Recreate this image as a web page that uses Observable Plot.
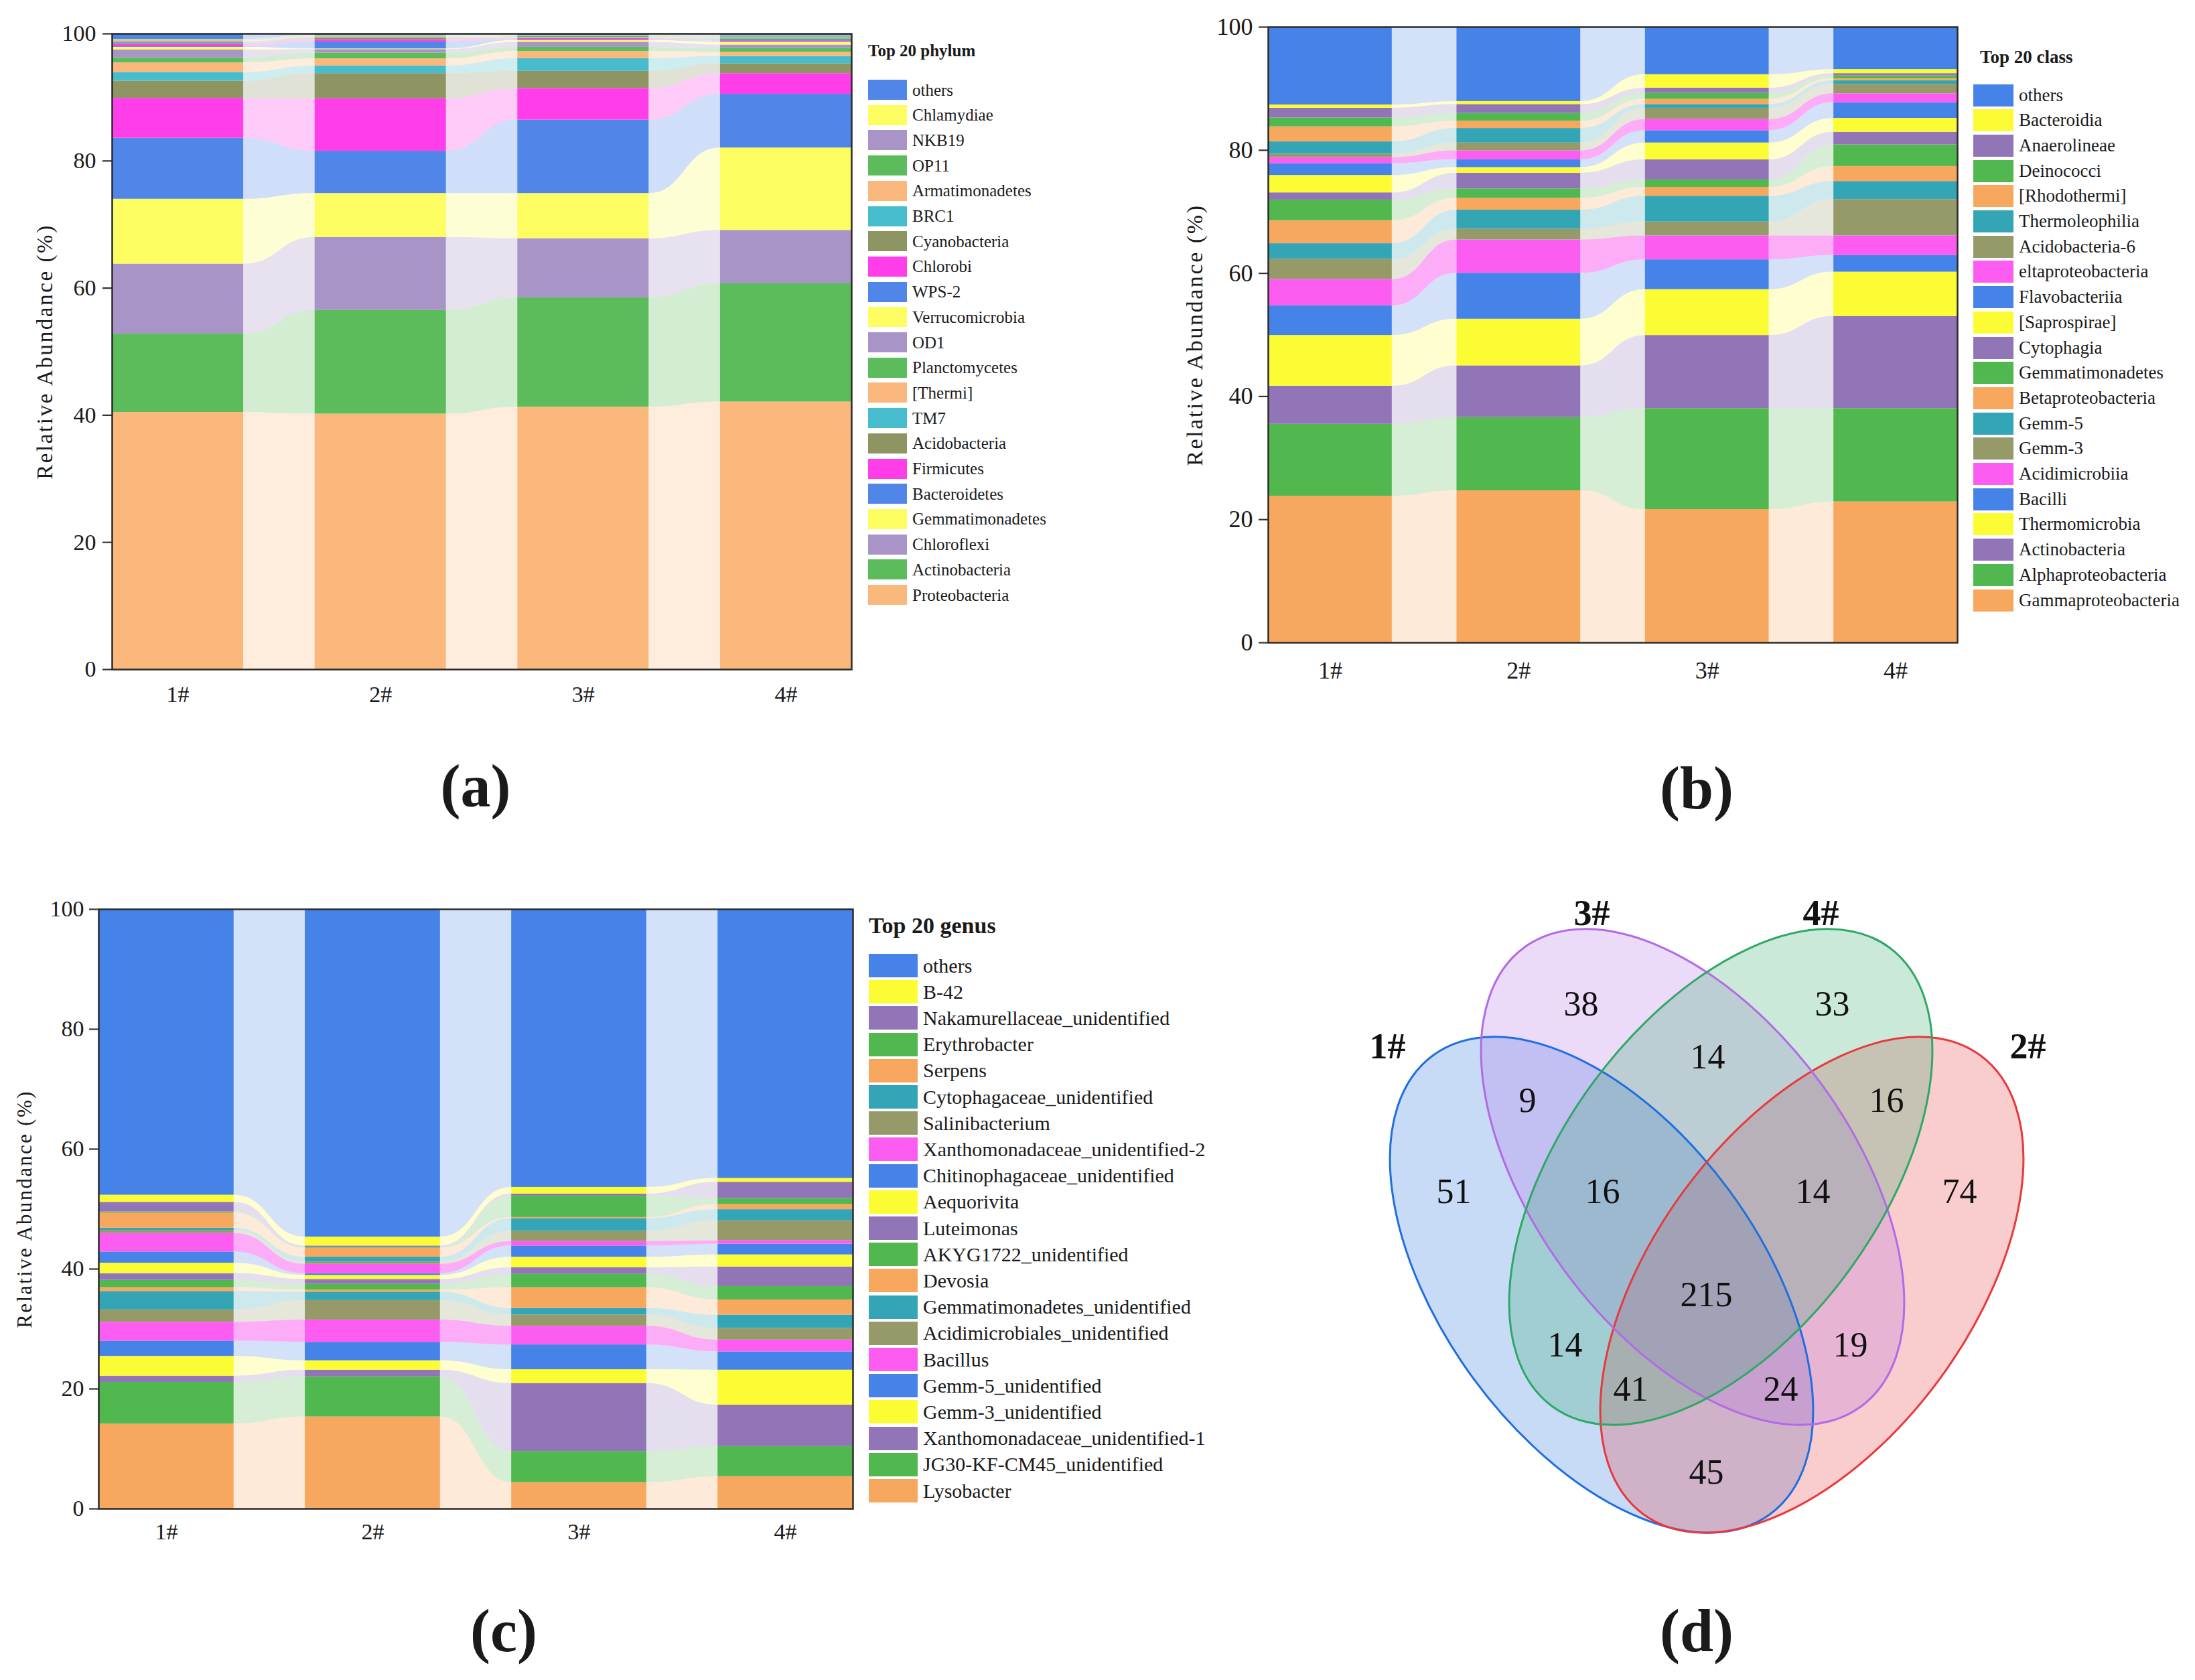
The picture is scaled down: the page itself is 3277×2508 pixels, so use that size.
<!DOCTYPE html>
<html>
<head>
<meta charset="utf-8">
<script src="https://cdn.jsdelivr.net/npm/d3@7"></script>
<script src="https://cdn.jsdelivr.net/npm/@observablehq/plot@0.6"></script>
<style>
html, body { margin: 0; padding: 0; background: #fff; }
#fig { position: relative; width: 3277px; height: 2508px; background: #fff; overflow: hidden;
       font-family: "Liberation Serif", "Times New Roman", serif; color: #1a1a1a; }
#fig svg { position: absolute; font-family: "Liberation Serif", "Times New Roman", serif !important; }
#fig svg text { font-family: "Liberation Serif", "Times New Roman", serif !important; }
.lg-title { position: absolute; font-weight: bold; white-space: nowrap; line-height: 1; transform: translateY(-50%); }
.lg-item { position: absolute; display: flex; align-items: center; white-space: nowrap; }
.lg-sw { flex: none; }
.lg-tx { line-height: 1; }
.plabel { position: absolute; font-weight: bold; font-size: 90px; line-height: 1; transform: translate(-50%, -50%); white-space: nowrap; }
</style>
</head>
<body>
<div id="fig"></div>
<script>
// ---------------- DATA ----------------
const samples = ["1#", "2#", "3#", "4#"];

// (a) phylum — listed from the bottom of each stacked bar to the top
const phylumNames = ["Proteobacteria", "Actinobacteria", "Chloroflexi", "Gemmatimonadetes", "Bacteroidetes",
  "Firmicutes", "Acidobacteria", "TM7", "[Thermi]", "Planctomycetes", "OD1", "Verrucomicrobia", "WPS-2",
  "Chlorobi", "Cyanobacteria", "BRC1", "Armatimonadetes", "OP11", "NKB19", "Chlamydiae", "others"];
const phylum1 = [40.45, 12.35, 11.0, 10.2, 9.6, 6.27, 2.7, 1.37, 1.51, 0.79, 1.23, 0.43, 0.1, 0.44, 0.06, 0.23, 0.25, 0.07, 0.05, 0.06, 0.84];
const phylum2 = [40.2, 16.3, 11.5, 6.9, 6.65, 8.25, 3.96, 1.19, 1.15, 0.9, 0.55, 0.1, 1.08, 0.36, 0.25, 0.1, 0.1, 0.08, 0.08, 0.07, 0.23];
const phylum3 = [41.3, 17.2, 9.3, 7.1, 11.55, 4.97, 2.7, 1.98, 1.15, 0.65, 0.79, 0.29, 0.07, 0.21, 0.07, 0.07, 0.07, 0.18, 0.07, 0.04, 0.24];
const phylum4 = [42.1, 18.6, 8.4, 12.96, 8.46, 3.24, 1.54, 1.16, 0.64, 0.65, 0.51, 0.44, 0.15, 0.1, 0.25, 0.2, 0.1, 0.1, 0.05, 0.05, 0.3];

// (b) class — bottom to top
const classNames = ["Gammaproteobacteria", "Alphaproteobacteria", "Actinobacteria", "Thermomicrobia", "Bacilli",
  "Acidimicrobiia", "Gemm-3", "Gemm-5", "Betaproteobacteria", "Gemmatimonadetes", "Cytophagia", "[Saprospirae]",
  "Flavobacteriia", "eltaproteobacteria", "Acidobacteria-6", "Thermoleophilia", "[Rhodothermi]", "Deinococci",
  "Anaerolineae", "Bacteroidia", "others"];
const class1 = [23.83, 11.67, 6.2, 8.23, 4.83, 4.26, 3.27, 2.55, 3.74, 3.35, 1.17, 2.83, 1.92, 0.99, 0.54, 2.0, 2.44, 1.45, 1.57, 0.54, 12.62];
const class2 = [24.7, 11.9, 8.4, 7.58, 7.46, 5.41, 1.75, 3.09, 1.93, 1.53, 2.54, 0.91, 1.27, 1.46, 1.27, 2.36, 1.17, 1.27, 1.45, 0.48, 12.07];
const class3 = [21.65, 16.4, 11.88, 7.45, 4.84, 3.89, 2.25, 4.19, 1.45, 1.2, 3.27, 2.73, 2.0, 1.82, 1.82, 0.61, 0.84, 0.98, 0.84, 2.18, 7.71];
const class4 = [22.89, 15.16, 14.97, 7.2, 2.69, 3.2, 5.89, 2.95, 2.43, 3.52, 2.05, 2.25, 2.55, 1.45, 1.53, 0.58, 0.33, 0.46, 0.37, 0.66, 6.87];

// (c) genus — bottom to top
const genusNames = ["Lysobacter", "JG30-KF-CM45_unidentified", "Xanthomonadaceae_unidentified-1", "Gemm-3_unidentified",
  "Gemm-5_unidentified", "Bacillus", "Acidimicrobiales_unidentified", "Gemmatimonadetes_unidentified", "Devosia",
  "AKYG1722_unidentified", "Luteimonas", "Aequorivita", "Chitinophagaceae_unidentified",
  "Xanthomonadaceae_unidentified-2", "Salinibacterium", "Cytophagaceae_unidentified", "Serpens", "Erythrobacter",
  "Nakamurellaceae_unidentified", "B-42", "others"];
const genus1 = [14.16, 6.96, 1.04, 3.3, 2.54, 3.15, 2.05, 3.08, 0.63, 1.23, 1.12, 1.74, 1.86, 3.09, 0.52, 0.37, 2.53, 0.18, 1.6, 1.19, 47.66];
const genus2 = [15.35, 6.69, 1.12, 1.56, 3.08, 3.72, 3.24, 1.41, 0.37, 0.93, 0.82, 0.67, 0.3, 1.56, 0.37, 0.81, 1.5, 0.1, 0.27, 1.48, 54.65];
const genus3 = [4.39, 5.2, 11.34, 2.3, 4.13, 3.12, 1.86, 1.12, 3.45, 2.23, 1.12, 1.74, 1.87, 0.74, 1.71, 2.12, 0.18, 3.54, 0.37, 1.11, 46.36];
const genus4 = [5.39, 5.02, 6.91, 5.84, 3.05, 1.97, 1.93, 2.23, 2.53, 2.23, 3.27, 2.01, 1.78, 0.56, 3.35, 1.86, 0.85, 1.0, 2.72, 0.63, 44.87];

// (d) Venn — shared OTUs
const vennSets = ["1#", "2#", "3#", "4#"];
const vennRegions = ["1", "2", "3", "4", "34", "13", "24", "134", "234", "1234", "14", "23", "124", "123", "12"];
const vennCounts = [51, 74, 38, 33, 14, 9, 16, 16, 14, 215, 14, 19, 41, 24, 45];

// ---------------- STYLE / LAYOUT ----------------
const paletteA = ["#fbb87c", "#5cbc5c", "#a994c8", "#fdfd62", "#4f86e8", "#ff3eea", "#8e9462", "#46bccc"];
const paletteBC = ["#f8a85e", "#50b84e", "#9175b6", "#fcfc34", "#4583e8", "#fc5cf0", "#959a68", "#33a5b5"];
const serif = "Liberation Serif";
const fig = document.getElementById("fig");

function forceSerif(svg) {
  svg.style.fontFamily = "'Liberation Serif', 'Times New Roman', serif";
  d3.select(svg).selectAll("text, g").attr("font-family", "Liberation Serif");
}

function stackedPanel(cfg) {
  const {names, series, palette, w} = cfg;
  const cums = series.map(vals => { let c = 0; return vals.map(v => { const lo = c; c += v; return [lo, c]; }); });
  const bars = [], ribbons = [];
  cums.forEach((cum, s) => cum.forEach(([lo, hi], k) => {
    bars.push({x1: s, x2: s + w, lo, hi, fill: palette[k % palette.length]});
  }));
  for (let g = 0; g < cums.length - 1; g++) {
    names.forEach((n, k) => {
      const ci = k % palette.length;
      const fill = palette[ci], op = cfg.ribbonOp(ci);
      const key = k + "-" + g;
      ribbons.push({key, x: g + w, lo: cums[g][k][0], hi: cums[g][k][1], fill, op});
      ribbons.push({key, x: g + 1, lo: cums[g + 1][k][0], hi: cums[g + 1][k][1], fill, op});
    });
  }
  const ticks = samples.map((d, i) => i + w / 2);
  const svg = Plot.plot({
    width: cfg.width, height: cfg.height,
    marginLeft: cfg.ml, marginRight: cfg.mr, marginTop: cfg.mt, marginBottom: cfg.mb,
    style: {fontFamily: serif, background: "transparent", color: "#1a1a1a", overflow: "visible"},
    x: {domain: [0, samples.length - 1 + w]},
    y: {domain: [0, 100]},
    color: {type: "identity"},
    opacity: {type: "identity"},
    marks: [
      Plot.area(ribbons, {x1: "x", y1: "lo", y2: "hi", z: "key", fill: "fill", fillOpacity: "op", curve: "bump-x"}),
      Plot.rect(bars, {x1: "x1", x2: "x2", y1: "lo", y2: "hi", fill: "fill"}),
      Plot.axisY({ticks: [0, 20, 40, 60, 80, 100], tickSize: 14, tickPadding: cfg.tp, fontSize: cfg.tickFont,
                  fontFamily: serif, label: null, strokeWidth: 2.2, stroke: "#333"}),
      Plot.axisX({ticks, tickFormat: d => samples[Math.round(d - w / 2)], tickSize: 0, tickPadding: cfg.xpad,
                  fontSize: cfg.tickFont, fontFamily: serif, label: null}),
      Plot.text(["Relative Abundance (%)"], {frameAnchor: "left", dx: -cfg.ylabOff, rotate: -90,
                  textAnchor: "middle", lineAnchor: "middle",
                  fontSize: cfg.ylabFont, fontFamily: serif, text: d => d, fill: "#1a1a1a"}),
      Plot.frame({stroke: "#2a2a2a", strokeWidth: 2.5})
    ]
  });
  forceSerif(svg);
  d3.select(svg).selectAll("text")
    .filter(function () { return this.textContent.startsWith("Relative"); })
    .attr("letter-spacing", cfg.ylabSpacing + "px");
  svg.style.left = cfg.left + "px";
  svg.style.top = cfg.top + "px";
  fig.appendChild(svg);

  // legend (top of list = top of stack)
  const L = cfg.legend;
  const t = document.createElement("div");
  t.className = "lg-title";
  t.textContent = L.title;
  Object.assign(t.style, {left: L.titleX + "px", top: L.titleY + "px", fontSize: L.titleFont + "px"});
  fig.appendChild(t);
  const order = names.map((n, k) => k).reverse();
  order.forEach((k, i) => {
    const item = document.createElement("div");
    item.className = "lg-item";
    Object.assign(item.style, {left: L.swX + "px", top: (L.firstY + i * L.step - L.swH / 2) + "px", height: L.swH + "px"});
    const sw = document.createElement("div");
    sw.className = "lg-sw";
    Object.assign(sw.style, {width: L.swW + "px", height: L.swH + "px", background: palette[k % palette.length]});
    const tx = document.createElement("span");
    tx.className = "lg-tx";
    tx.textContent = names[k];
    Object.assign(tx.style, {marginLeft: (L.textX - L.swX - L.swW) + "px", fontSize: L.font + "px"});
    item.appendChild(sw); item.appendChild(tx);
    fig.appendChild(item);
  });
}

// (a)
stackedPanel({
  names: phylumNames, series: [phylum1, phylum2, phylum3, phylum4], palette: paletteA, w: 0.648,
  ribbonOp: () => 0.27,
  left: 0, top: 0, width: 1290, height: 1080, ml: 167, mr: 19, mt: 50, mb: 81,
  tp: 10, tickFont: 34, xpad: 24, ylabOff: 100, ylabFont: 33, ylabSpacing: 2.6,
  legend: {title: "Top 20 phylum", titleX: 1296, titleY: 75, titleFont: 25,
           swX: 1296, swW: 58, swH: 30, firstY: 134, step: 37.7, textX: 1362, font: 25}
});

// (b)
stackedPanel({
  names: classNames, series: [class1, class2, class3, class4], palette: paletteBC, w: 0.657,
  ribbonOp: ci => ci === 5 ? 0.5 : 0.24,
  left: 1750, top: 0, width: 1200, height: 1040, ml: 143, mr: 28, mt: 40, mb: 81,
  tp: 9, tickFont: 36, xpad: 28, ylabOff: 109, ylabFont: 34, ylabSpacing: 2.6,
  legend: {title: "Top 20 class", titleX: 2956, titleY: 85, titleFont: 27,
           swX: 2946, swW: 60, swH: 33, firstY: 142, step: 37.7, textX: 3014, font: 27}
});

// (c)
stackedPanel({
  names: genusNames, series: [genus1, genus2, genus3, genus4], palette: paletteBC, w: 0.655,
  ribbonOp: ci => ci === 5 ? 0.5 : 0.24,
  left: 0, top: 1300, width: 1290, height: 1040, ml: 147, mr: 17, mt: 57, mb: 88,
  tp: 8, tickFont: 34, xpad: 21, ylabOff: 110, ylabFont: 31, ylabSpacing: 2.3,
  legend: {title: "Top 20 genus", titleX: 1297, titleY: 1382, titleFont: 34,
           swX: 1297, swW: 73, swH: 35, firstY: 1441.5, step: 39.2, textX: 1378, font: 30}
});

// (d) Venn — layout (pixel positions inside the Venn plot)
const vennColors = {"1#": "#1f6fe0", "2#": "#e8393c", "3#": "#b26ae6", "4#": "#2fa866"};
const vennEllipseLayout = [
  {set: "1#", cx: 411, cy: 618, rot: 53.7},
  {set: "2#", cx: 725, cy: 618, rot: -53.7},
  {set: "3#", cx: 547, cy: 457, rot: 53.7},
  {set: "4#", cx: 589, cy: 457, rot: -53.7}
];
const vennAxes = {a: 425, b: 237};
const vennRegionPos = {
  "1": [190, 479], "2": [945, 479], "3": [380, 199], "4": [755, 199], "34": [569, 278],
  "13": [300, 343], "24": [836, 343], "134": [412, 479], "234": [726, 479], "1234": [567, 633],
  "14": [356, 708], "23": [782, 708], "124": [454, 774], "123": [678, 774], "12": [567, 898]
};
const vennSetPos = {"1#": [91, 262], "2#": [1047, 262], "3#": [396, 63], "4#": [738, 63]};

const vennLabelData = vennRegions.map((r, i) => ({x: vennRegionPos[r][0], y: vennRegionPos[r][1], count: String(vennCounts[i])}));
const vennSetData = vennSets.map(s => ({x: vennSetPos[s][0], y: vennSetPos[s][1], name: s}));

function ellipseMark(layout) {
  return function (index, scales) {
    const sx = (scales && scales.x) || (v => v);
    const sy = (scales && scales.y) || (v => v);
    const g = d3.create("svg:g");
    for (const e of layout) {
      const cx = sx(e.cx), cy = sy(e.cy);
      g.append("ellipse").attr("cx", cx).attr("cy", cy).attr("rx", vennAxes.a).attr("ry", vennAxes.b)
        .attr("transform", `rotate(${e.rot} ${cx} ${cy})`)
        .attr("fill", vennColors[e.set]).attr("fill-opacity", 0.25).attr("stroke", "none");
    }
    for (const e of layout) {
      const cx = sx(e.cx), cy = sy(e.cy);
      g.append("ellipse").attr("cx", cx).attr("cy", cy).attr("rx", vennAxes.a).attr("ry", vennAxes.b)
        .attr("transform", `rotate(${e.rot} ${cx} ${cy})`)
        .attr("fill", "none").attr("stroke", vennColors[e.set]).attr("stroke-width", 3);
    }
    return g.node();
  };
}

const venn = Plot.plot({
  width: 1140, height: 1040, margin: 0,
  x: {type: "identity", axis: null}, y: {type: "identity", axis: null},
  style: {fontFamily: serif, background: "transparent", color: "#111", overflow: "visible"},
  marks: [
    ellipseMark(vennEllipseLayout),
    Plot.text(vennLabelData, {x: "x", y: "y", text: "count", fontSize: 52, fontFamily: serif, fill: "#111"}),
    Plot.text(vennSetData, {x: "x", y: "y", text: "name", fontSize: 54, fontFamily: serif, fontWeight: "bold", fill: "#111"})
  ]
});
forceSerif(venn);
venn.style.left = "1980px";
venn.style.top = "1300px";
fig.appendChild(venn);

// panel letters
[["(a)", 710, 1174], ["(b)", 2533, 1177], ["(c)", 752, 2435], ["(d)", 2533, 2435]].forEach(([t, x, y]) => {
  const d = document.createElement("div");
  d.className = "plabel";
  d.textContent = t;
  d.style.left = x + "px"; d.style.top = y + "px";
  fig.appendChild(d);
});
</script>
</body>
</html>
